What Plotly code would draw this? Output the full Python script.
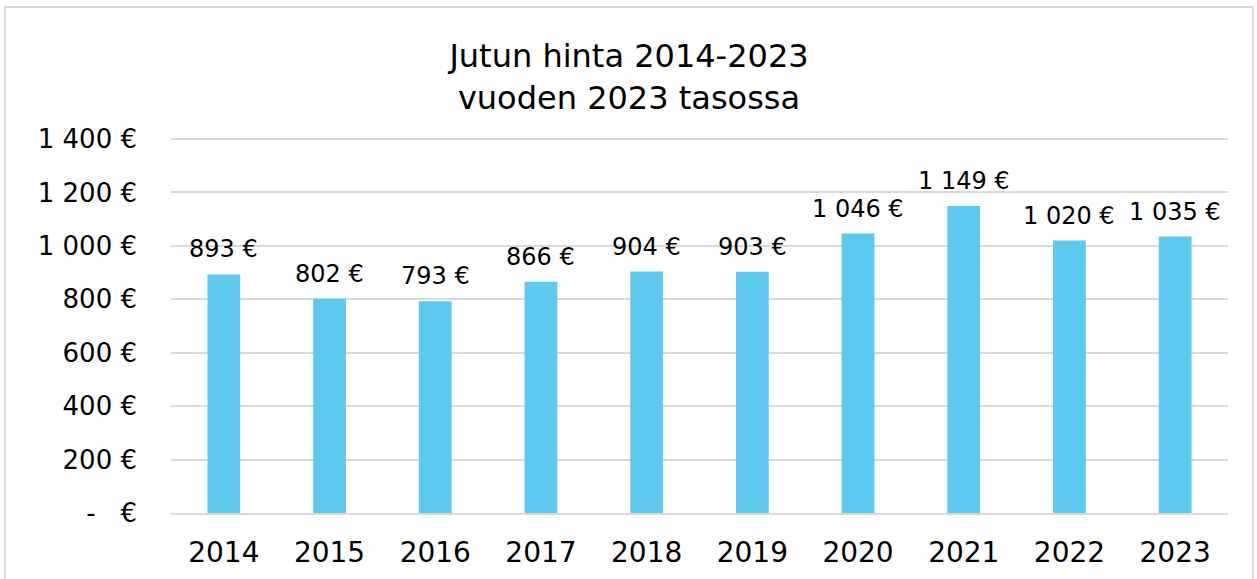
import plotly.graph_objects as go

years = ["2014", "2015", "2016", "2017", "2018", "2019", "2020", "2021", "2022", "2023"]
prices = [893, 802, 793, 866, 904, 903, 1046, 1149, 1020, 1035]
tick_vals = [0, 200, 400, 600, 800, 1000, 1200, 1400]
tick_text = ["-   €", "200 €", "400 €", "600 €", "800 €", "1 000 €", "1 200 €", "1 400 €"]
title_text = "Jutun hinta 2014-2023<br>vuoden 2023 tasossa"

labels = [f"{v:,}".replace(",", " ") + " €" for v in prices]

W, H = 1257, 579
L, R, T, B = 171, 29, 138, 66
pw, ph = W - L - R, H - T - B

FONT = "DejaVu Sans"

fig = go.Figure(go.Bar(
    x=years, y=prices,
    marker=dict(color="#5EC9EE", line=dict(width=0)),
    width=0.31,
))

# category axis: annotations positioned by category index
annotations = [
    dict(x=i, y=v, xref="x", yref="y", text=lab, showarrow=False,
         yanchor="middle", xanchor="center", yshift=25,
         font=dict(family=FONT, size=24, color="#000000"))
    for i, (v, lab) in enumerate(zip(prices, labels))
]

fig.update_layout(
    width=W, height=H,
    margin=dict(l=L, r=R, t=T, b=B, autoexpand=False),
    paper_bgcolor="white", plot_bgcolor="white",
    showlegend=False,
    title=dict(text=title_text, x=629 / W, xanchor="center",
               y=1 - 67 / H, yanchor="middle", yref="container",
               font=dict(family=FONT, size=32, color="#000000")),
    font=dict(family=FONT, color="#000000"),
    xaxis=dict(type="category", categoryorder="array", categoryarray=years,
               range=[-0.5, len(years) - 0.5],
               showgrid=False, showline=True, linecolor="#D9D9D9", linewidth=2,
               tickfont=dict(size=28, family=FONT), ticks="", ticklabelstandoff=13),
    yaxis=dict(range=[0, 1404], tickvals=tick_vals, ticktext=tick_text,
               showgrid=True, gridcolor="#D9D9D9", gridwidth=2, zeroline=False,
               showline=False, tickfont=dict(size=26, family=FONT), ticks="",
               ticklabelstandoff=33),
    annotations=annotations,
    shapes=[dict(type="rect", xref="paper", yref="paper",
                 x0=(5 - L) / pw, x1=(1253 - L) / pw,
                 y0=(H - T - 600) / ph, y1=(H - B - 7) / ph,
                 line=dict(color="#D9D9D9", width=2), fillcolor="rgba(0,0,0,0)",
                 layer="below")],
)

fig.write_html("out.html", config={"displayModeBar": False},
               post_script="document.body.style.margin='0';document.body.style.overflow='hidden';")
